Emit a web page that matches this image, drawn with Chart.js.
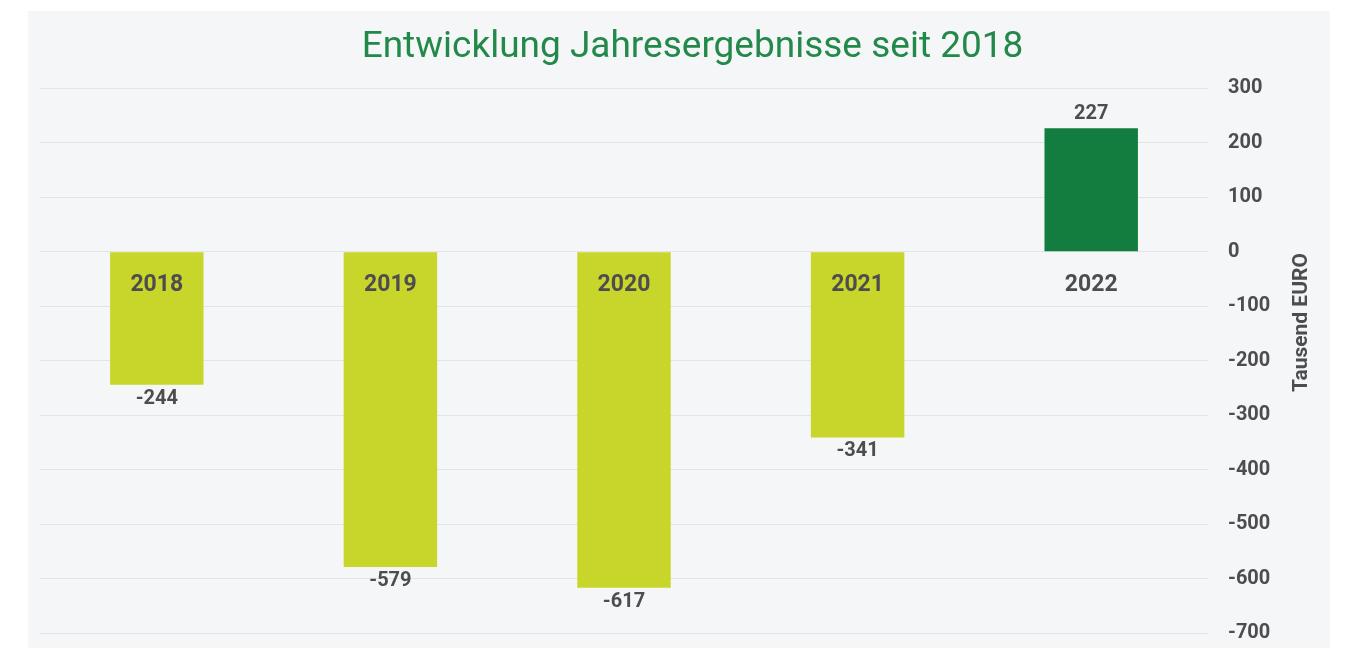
<!DOCTYPE html>
<html lang="de">
<head>
<meta charset="utf-8">
<title>Entwicklung Jahresergebnisse seit 2018</title>
<script src="https://cdn.jsdelivr.net/npm/chart.js@4.4.0/dist/chart.umd.min.js"></script>
<style>
    html, body { margin: 0; padding: 0; background: #ffffff; }
    body { width: 1345px; height: 648px; position: relative; overflow: hidden; }
    .panel { position: absolute; left: 28px; top: 11px; width: 1302px; height: 637px; background: #f4f6f7; }
    .wrap { position: absolute; left: 0; top: 0; width: 1345px; height: 648px; }
</style>
</head>
<body>
<div class="panel"></div>
<div class="wrap"><canvas id="resultChart"></canvas></div>
<script>
// Jahresergebnisse in Tausend EURO
const years = ['2018', '2019', '2020', '2021', '2022'];
const results = [-244, -579, -617, -341, 227];
const yTicks = [300, 200, 100, 0, -100, -200, -300, -400, -500, -600, -700];

const LIME = '#c8d62b';
const GREEN = '#127d3f';
const TEXT = '#4d4d4f';
const FONT = 'Roboto, "Liberation Sans", sans-serif';

// year names inside / under the bars, values at the bar ends
const barLabels = {
    id: 'barLabels',
    afterDatasetsDraw(chart) {
        const { ctx, scales: { y } } = chart;
        const meta = chart.getDatasetMeta(0);
        const zero = y.getPixelForValue(0);
        ctx.save();
        ctx.fillStyle = TEXT;
        ctx.textAlign = 'center';
        ctx.textBaseline = 'middle';
        meta.data.forEach((bar, i) => {
            const v = results[i];
            ctx.font = `bold 23px ${FONT}`;
            ctx.fillText(years[i], bar.x, zero + 33);
            ctx.font = `bold 20px ${FONT}`;
            const end = y.getPixelForValue(v);
            ctx.fillText(String(v), bar.x, v < 0 ? end + 14 : end - 14);
        });
        ctx.restore();
    }
};

// axis title reads bottom-to-top on the right side
const axisTitle = {
    id: 'axisTitle',
    afterDraw(chart) {
        const { ctx, chartArea, scales: { y } } = chart;
        ctx.save();
        ctx.translate(chartArea.right + 94, y.getPixelForValue(-130));
        ctx.rotate(-Math.PI / 2);
        ctx.fillStyle = TEXT;
        ctx.font = `bold 21px ${FONT}`;
        ctx.textAlign = 'center';
        ctx.textBaseline = 'middle';
        ctx.fillText('Tausend EURO', 0, 0);
        ctx.restore();
    }
};

new Chart(document.getElementById('resultChart'), {
    type: 'bar',
    data: {
        labels: years,
        datasets: [{
            data: results,
            backgroundColor: results.map(v => v >= 0 ? GREEN : LIME),
            borderWidth: 0,
            barPercentage: 0.4,
            categoryPercentage: 1.0
        }]
    },
    options: {
        responsive: true,
        maintainAspectRatio: false,
        animation: false,
        layout: { padding: { left: 40, right: 0, top: 0, bottom: 0 } },
        plugins: {
            legend: { display: false },
            tooltip: { enabled: false },
            title: {
                display: true,
                text: 'Entwicklung Jahresergebnisse seit 2018',
                color: '#23894a',
                font: { family: FONT, size: 37, weight: 'normal' },
                padding: { top: 26, bottom: 18 }
            }
        },
        scales: {
            x: { display: false },
            y: {
                position: 'right',
                min: -700,
                max: 300,
                afterFit(scale) {
                    scale.width = 137;
                    scale.paddingTop = 0;
                    scale.paddingBottom = 15;
                },
                afterBuildTicks(scale) { scale.ticks = yTicks.map(v => ({ value: v })); },
                grid: { color: '#e3e4e4', lineWidth: 1, drawTicks: false },
                border: { display: false },
                ticks: {
                    padding: 20,
                    color: TEXT,
                    font: { family: FONT, size: 20, weight: 'bold' }
                }
            }
        }
    },
    plugins: [barLabels, axisTitle]
});
</script>
</body>
</html>
